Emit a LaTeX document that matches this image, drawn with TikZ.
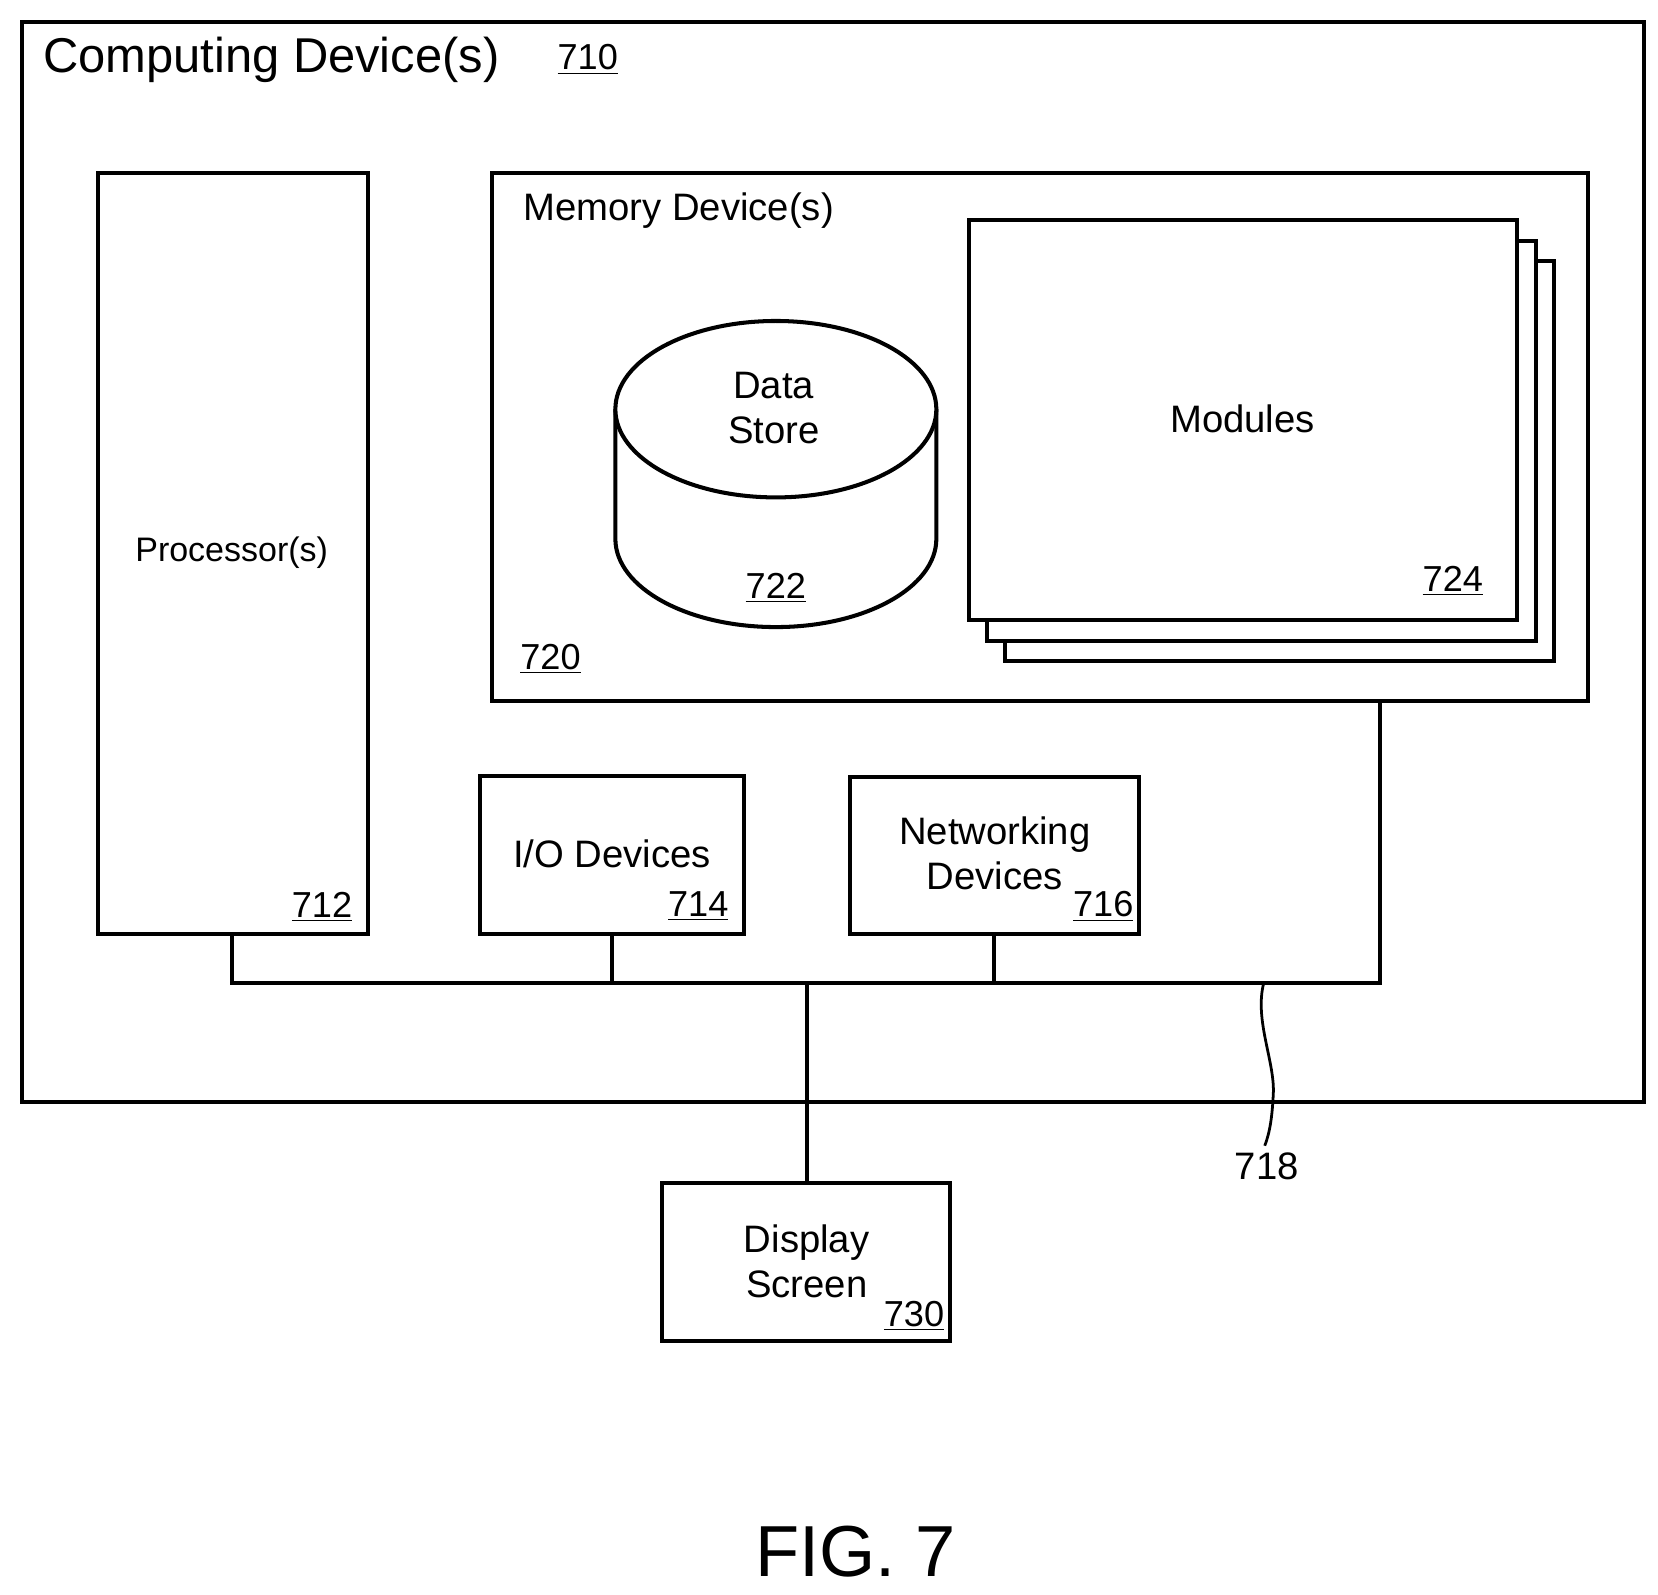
\documentclass[tikz,border=0pt]{standalone}
\usepackage{fontspec}
\setmainfont{Liberation Sans}
\begin{document}
\begin{tikzpicture}[x=0.5pt,y=-0.5pt,line width=1.9pt,
 box/.style={draw,fill=white,line width=1.9pt},
 t/.style={font=\fontsize{18}{21}\selectfont,align=center},
 num/.style={font=\fontsize{17}{20}\selectfont}]
\useasboundingbox (0,0) rectangle (1560,1500);
\draw[box] (21,21) rectangle (1547,1037);
\node[anchor=west,font=\fontsize{23}{27}\selectfont] (t710) at (32,56) {Computing Device(s)};
\node[num] (n710) at (553,56) {\underline{710}};
\draw[box] (92,163) rectangle (346,879);
\coordinate (proc) at (218,879);
\node[font=\fontsize{16}{19}\selectfont] (tproc) at (218,520) {Processor(s)};
\node[num] (n712) at (303,853) {\underline{712}};
\draw[box] (463,163) rectangle (1494,660);
\coordinate (mem) at (1298,660);
\node[t,anchor=west] (tmem) at (484,198) {Memory Device(s)};
\node[num] (n720) at (518,620) {\underline{720}};
% cylinder
\draw[box] (579,385) -- (579,507) arc[start angle=180,end angle=0,x radius=151,y radius=83] -- (881,385);
\draw[box] (730,385) ellipse[x radius=151,y radius=83];
\node[t] (tds) at (728,384) {Data\\Store};
\node[num] (n722) at (730,553) {\underline{722}};
% modules
\draw[box] (946,246) rectangle (1462,622);
\draw[box] (929,227) rectangle (1445,603);
\draw[box] (912,207) rectangle (1427,583);
\node[t] (tmod) at (1169,394) {Modules};
\node[num] (n724) at (1367,547) {\underline{724}};
% I/O
\draw[box] (452,730) rectangle (700,879);
\coordinate (io) at (576,879);
\node[t] (tio) at (576,803) {I/O Devices};
\node[num] (n714) at (657,853) {\underline{714}};
\draw[box] (800,731) rectangle (1072,879);
\coordinate (net) at (935,879);
\node[t] (tnet) at (936,803) {Networking\\Devices};
\node[num] (n716) at (1038,853) {\underline{716}};
\draw[box] (623,1113) rectangle (894,1262);
\coordinate (disp) at (759,1113);
\node[t] (tdisp) at (759,1187) {Display\\Screen};
\node[num] (n730) at (860,1238) {\underline{730}};
% bus
\coordinate (bl) at (218,925);
\coordinate (br) at (1298,925);
\coordinate (bd) at (759,925);
\draw (proc) -- (bl) -- (br) -- (mem);
\draw (io) -- (576,925);
\draw (net) -- (935,925);
\draw (bd) -- (disp);
\coordinate (lead) at (1189,925);
\draw[line width=1.3pt] (lead) .. controls (1180,960) and (1200,1000) .. (1198,1030) .. controls (1197,1050) and (1195,1065) .. (1190,1078);
\node[font=\fontsize{18}{21}\selectfont] (n718) at (1192,1097) {718};
\node[font=\fontsize{34}{40}\selectfont] (fig) at (805,1460) {FIG. 7};
\end{tikzpicture}
\end{document}
